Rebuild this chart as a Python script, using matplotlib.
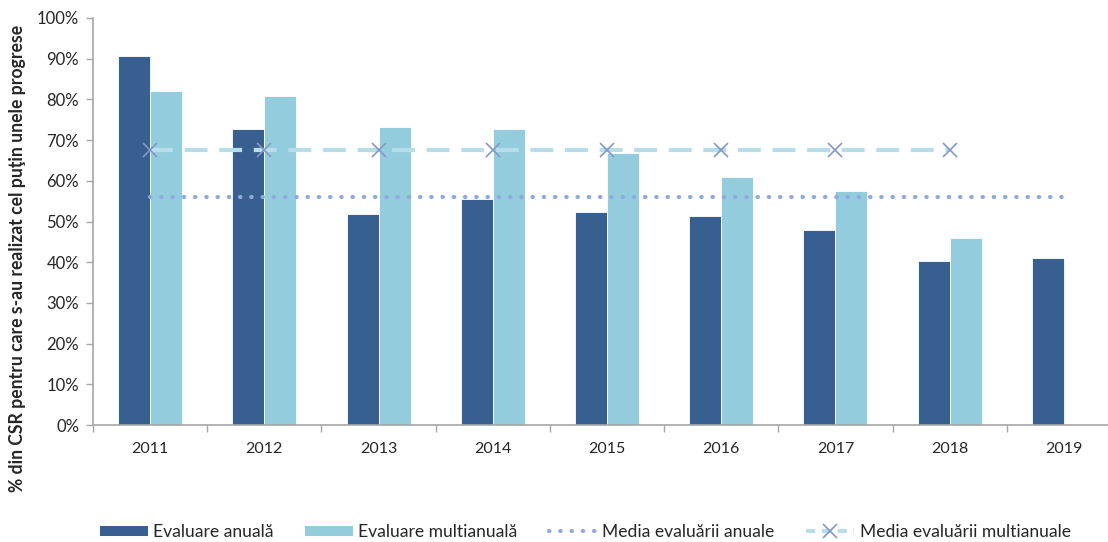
import numpy as np
import matplotlib
matplotlib.use("Agg")
import matplotlib.pyplot as plt
from matplotlib.lines import Line2D
from matplotlib.patches import Patch

years = ["2011", "2012", "2013", "2014", "2015", "2016", "2017", "2018", "2019"]
anual = [90.7, 72.7, 51.8, 55.5, 52.4, 51.4, 47.9, 40.3, 41.0]
multianual = [82.1, 80.8, 73.2, 72.7, 66.9, 61.0, 57.6, 45.9, np.nan]
media_anual = 56.0
media_multianual = 67.5
yticks = [0, 10, 20, 30, 40, 50, 60, 70, 80, 90, 100]

c_dark = "#375F8F"
c_light = "#93CDDD"
c_dot = "#8EA9DB"
c_dash = "#B7DEE8"
c_x = "#8497C9"
axc = "#A6A6A6"

plt.rcParams['font.family'] = ['Lato', 'DejaVu Sans']

fig = plt.figure(figsize=(11.08, 5.42), dpi=100)
ax = fig.add_axes([93/1108, 1-425/542, (1121-93)/1108, (425-18)/542])

x = np.arange(len(years))
w = 0.28
ax.bar(x, anual, width=-w, align='edge', color=c_dark, edgecolor='white', linewidth=0.6, zorder=2)
ax.bar(x, multianual, width=w, align='edge', color=c_light, edgecolor='white', linewidth=0.6, zorder=2)

ax.plot(x, [media_anual]*len(x), linestyle=(0, (0.1, 2.6)), dash_capstyle='round',
        linewidth=3, color=c_dot, zorder=3)
nm = len(years) - 1
ax.plot(x[:nm], [media_multianual]*nm, linestyle=(0, (5.5, 2.8)), linewidth=3,
        color=c_dash, zorder=3)
ax.plot(x[:nm], [media_multianual]*nm, linestyle='none', marker='x', markersize=10,
        markeredgewidth=1.2, color=c_x, zorder=4)

ax.set_xlim(-0.5, len(years) - 0.5)
ax.set_ylim(0, 100)
ax.set_yticks(yticks)
ax.set_yticklabels([f"{v}%" for v in yticks], fontsize=12, color="#262626")
ax.set_xticks(x)
ax.set_xticklabels(years, fontsize=11.5, color="#262626")
ax.set_xticks(np.arange(-0.5, len(years)), minor=True)
ax.tick_params(axis='x', which='major', length=0, pad=12)
ax.tick_params(axis='x', which='minor', length=5, color=axc, width=1)
ax.tick_params(axis='y', length=5, color=axc, width=1, pad=5)
for s in ['top', 'right']:
    ax.spines[s].set_visible(False)
for s in ['left', 'bottom']:
    ax.spines[s].set_color(axc)
    ax.spines[s].set_linewidth(1.2)

fig.text(18/1108, 1-258/542, "% din CSR pentru care s-au realizat cel puţin unele progrese",
         rotation=90, ha='center', va='center', fontsize=12.7, fontweight='bold', color="#262626")

handles = [
    Patch(facecolor=c_dark, edgecolor='none'),
    Patch(facecolor=c_light, edgecolor='none'),
    Line2D([0], [0], linestyle=(0, (0.1, 2.6)), dash_capstyle='round', linewidth=3, color=c_dot),
    Line2D([0], [0], linestyle=(0, (2.2, 1.6)), linewidth=3, color=c_dash, marker='x',
           markersize=10, markeredgewidth=1.2, markeredgecolor=c_x),
]
labels = ["Evaluare anuală", "Evaluare multianuală", "Media evaluării anuale", "Media evaluării multianuale"]
fig.legend(handles, labels, loc='center', bbox_to_anchor=(585/1108, 1-532/542), ncol=4,
           frameon=False, fontsize=12.6, handlelength=2.75, handleheight=0.5, columnspacing=1.8,
           handletextpad=0.3, labelcolor="#262626", borderpad=0)

fig.savefig("out.png", dpi=100)
